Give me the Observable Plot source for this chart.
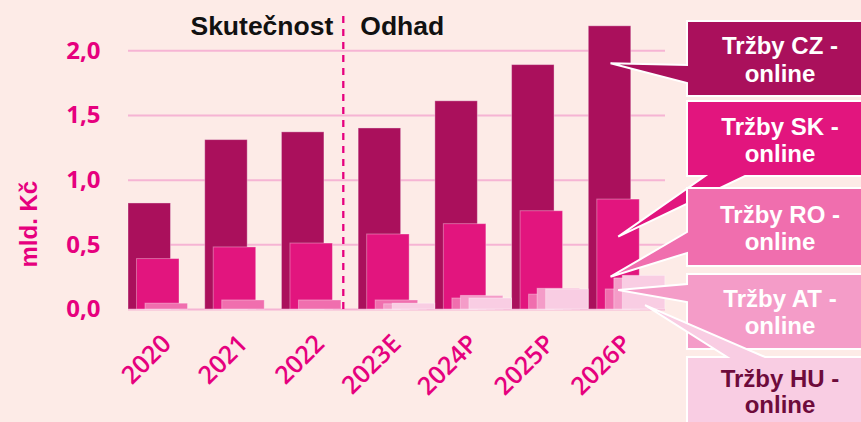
<!DOCTYPE html>
<html>
<head>
<meta charset="utf-8">
<script src="https://cdn.jsdelivr.net/npm/d3@7"></script>
<script src="https://cdn.jsdelivr.net/npm/@observablehq/plot@0.6"></script>
<style>
  html, body { margin: 0; padding: 0; background: #FDEBE7; }
  #chart svg { display: block; overflow: visible; }
</style>
</head>
<body>
<div id="chart"></div>
<script>
// ---- data (mld. Kč) ----
const years = ["2020", "2021", "2022", "2023E", "2024P", "2025P", "2026P"];
const czOnline = [0.82, 1.31, 1.37, 1.40, 1.61, 1.89, 2.19];
const skOnline = [0.39, 0.48, 0.51, 0.58, 0.66, 0.76, 0.85];
const roOnline = [0.045, 0.07, 0.07, 0.07, 0.085, 0.115, 0.155];
const atOnline = [0, 0, 0, 0.04, 0.105, 0.16, 0.24];
const huOnline = [0, 0, 0, 0.045, 0.085, 0.155, 0.26];
const seriesNames = ["Tržby CZ - online", "Tržby SK - online", "Tržby RO - online", "Tržby AT - online", "Tržby HU - online"];
const seriesColors = ["#AA105C", "#E2157E", "#F06EAE", "#F49CC8", "#F9CDE3"];
const seriesTextColors = ["#ffffff", "#ffffff", "#ffffff", "#ffffff", "#6E0B3B"];
const yTicks = [0, 0.5, 1.0, 1.5, 2.0];
const periodLabels = ["Skutečnost", "Odhad"];
const yLabel = "mld. Kč";

const seriesValues = [czOnline, skOnline, roOnline, atOnline, huOnline];
const MAGENTA = "#E6007E";
const STEP = 0.111, WIDTH = 0.554;   // bar offset and width as fraction of one year slot

const rows = seriesValues.map((vals, k) =>
  vals.map((v, i) => ({i, k, value: v, x1: i + k * STEP, x2: i + k * STEP + WIDTH}))
      .filter(d => d.value > 0)
);

// callout geometry (legend boxes on the right)
const callouts = [
  {box: [21, 96],   side: "left",   tip: [6.29, 1.90], base: [65, 83],   text: [33, 61]},
  {box: [101, 176], side: "bottom", tip: [6.39, 0.56], base: [705, 745], text: [34, 61]},
  {box: [188, 266], side: "left",   tip: [6.29, 0.25], base: [232, 253], text: [35, 62]},
  {box: [274, 349], side: "left",   tip: [6.39, 0.147], base: [284, 302], text: [33, 60]},
  {box: [357, 440], side: "top",    tip: [6.74, 0.03], base: [727, 765], text: [30, 56]}
];

function calloutMark(index, scales, values, dimensions) {
  const g = d3.create("svg:g");
  const L = 687, R = 875;
  callouts.forEach((c, k) => {
    const [t, b] = c.box;
    const tx = scales.x(c.tip[0]), ty = scales.y(c.tip[1]);
    let p;
    if (c.side === "left") {
      p = `M${L},${t}H${R}V${b}H${L}V${c.base[1]}L${tx},${ty}L${L},${c.base[0]}Z`;
    } else if (c.side === "bottom") {
      p = `M${L},${t}H${R}V${b}H${c.base[1]}L${tx},${ty}L${c.base[0]},${b}H${L}Z`;
    } else {
      p = `M${L},${t}H${c.base[0]}L${tx},${ty}L${c.base[1]},${t}H${R}V${b}H${L}Z`;
    }
    g.append("path").attr("d", p).attr("fill", seriesColors[k])
      .attr("stroke", "#ffffff").attr("stroke-width", 2).attr("stroke-linejoin", "miter");
    const parts = seriesNames[k].split(" - ");
    const lines = [parts[0] + " -", parts[1]];
    lines.forEach((ln, j) => {
      g.append("text").attr("x", 780).attr("y", t + c.text[j])
        .attr("text-anchor", "middle")
        .attr("font-family", "'Liberation Sans', Arial, sans-serif")
        .attr("font-weight", "bold").attr("font-size", 24)
        .attr("fill", seriesTextColors[k]).text(ln);
    });
  });
  return g.node();
}

const plot = Plot.plot({
  width: 861,
  height: 422,
  marginLeft: 128,
  marginRight: 196,
  marginTop: 24.5,
  marginBottom: 113,
  x: {type: "linear", domain: [0, years.length]},
  y: {domain: [0, 2.2]},
  style: {background: "transparent", fontFamily: "'Liberation Sans', Arial, sans-serif"},
  marks: [
    Plot.ruleY(yTicks, {stroke: "#F6B4D4", strokeWidth: 2}),
    ...rows.map((data, k) => Plot.rectY(data, {
      x1: "x1", x2: "x2", y1: 0, y2: "value",
      fill: seriesColors[k], stroke: "#ffffff", strokeOpacity: 0.35, strokeWidth: 1
    })),
    Plot.ruleX([2.8], {y1: 0, y2: 2.31, stroke: MAGENTA, strokeWidth: 2.3, strokeDasharray: "7,6"}),
    Plot.text([periodLabels[0]], {x: 2.8, y: 2.19, dx: -10, text: d => d, textAnchor: "end",
      fontSize: 26.5, fontWeight: "bold", fill: "#111111"}),
    Plot.text([periodLabels[1]], {x: 2.8, y: 2.19, dx: 17, text: d => d, textAnchor: "start",
      fontSize: 26.5, fontWeight: "bold", fill: "#111111"}),
    Plot.axisY({ticks: yTicks, tickFormat: d => d.toFixed(1).replace(".", ","), tickSize: 0,
      tickPadding: 28, fontSize: 24, fontWeight: "bold", color: MAGENTA, label: null,
      fontFamily: "'Open Sans', sans-serif"}),
    Plot.axisX({ticks: years.map((d, i) => i + 0.5), tickFormat: v => years[Math.floor(v)],
      tickRotate: -45, tickSize: 0, tickPadding: 30, fontSize: 25, fontWeight: 600,
      color: MAGENTA, label: null, fontFamily: "'Open Sans', sans-serif"}),
    Plot.text([yLabel], {x: 0, y: 0.66, dx: -99, text: d => d, rotate: -90, fontSize: 24,
      fontWeight: "bold", fill: MAGENTA}),
    calloutMark
  ]
});
document.getElementById("chart").appendChild(plot);
</script>
</body>
</html>
